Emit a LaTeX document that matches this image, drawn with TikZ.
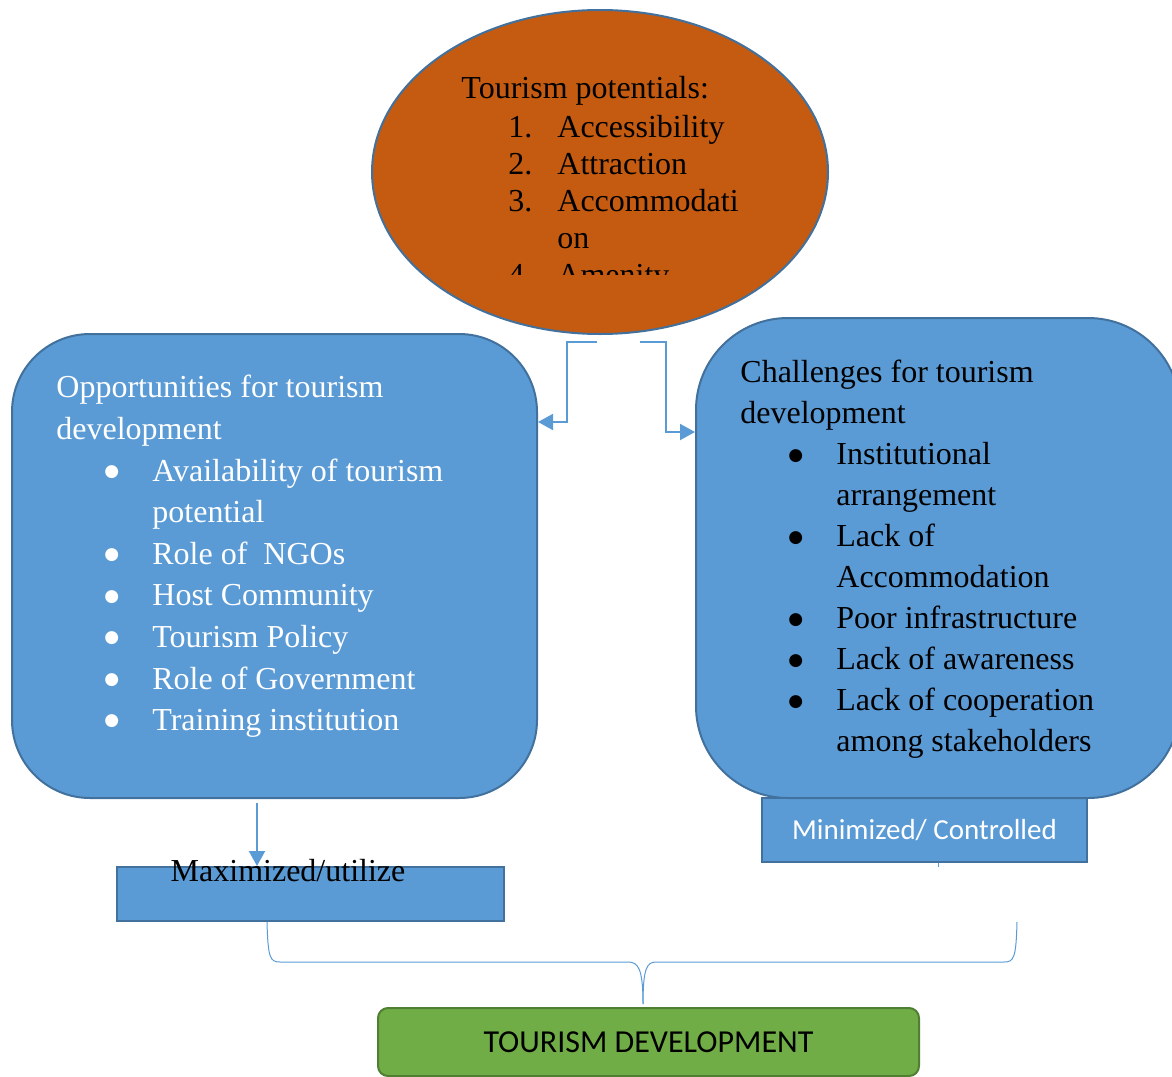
\documentclass[tikz,border=0pt]{standalone}
\usepackage{fontspec}
\setmainfont{Liberation Serif}
\setsansfont{Carlito}
\newfontfamily\dotfont{DejaVu Sans}
\usetikzlibrary{shapes,arrows,arrows.meta}
\definecolor{potorange}{HTML}{C55A11}
\definecolor{boxblue}{HTML}{5B9BD5}
\definecolor{edgeblue}{HTML}{41719C}
\definecolor{devgreen}{HTML}{70AD47}
\definecolor{edgegreen}{HTML}{507E32}
\newcommand{\bigdot}{\raisebox{2.4pt}{\dotfont\fontsize{8.5}{9}\selectfont ●}}
\newcommand{\bitem}[1]{\hspace*{24pt}\makebox[24pt][l]{\bigdot}#1}
\newcommand{\bcont}[1]{\hspace*{48pt}#1}
\newcommand{\nitem}[2]{\hspace*{23.5pt}\makebox[24.5pt][l]{#1}#2}

\begin{document}
\begin{tikzpicture}[x=0.5pt,y=-0.5pt,
    potential_ellipse/.style ={ellipse, draw=edgeblue, line width=1pt, fill=potorange,
      minimum width=228pt, minimum height=162pt, inner sep=0pt},
    block_round/.style ={rectangle, rounded corners=#1, draw=edgeblue, line width=1pt,
      fill=boxblue, inner sep=0pt},
    block_plain/.style ={rectangle, draw=edgeblue, line width=1pt, fill=boxblue,
      inner sep=0pt},
    block_result/.style ={rectangle, rounded corners=5pt, draw=edgegreen, line width=1pt,
      fill=devgreen, inner sep=0pt, font=\sffamily\fontsize{16}{19}\selectfont},
    box_text/.style ={anchor=north west, align=left, inner sep=0pt,
      font=\fontsize{16}{#1}\selectfont},
    line/.style ={draw=boxblue, line width=1pt, -{Triangle[length=7.5pt,width=8pt]}},
    brace_line/.style ={draw=boxblue, line width=0.5pt}]
    \useasboundingbox (0,0) rectangle (1172,1076);
    \clip (0,0) rectangle (1172,1076);
    % tourism potentials - top
    \node[potential_ellipse] (potentials) at (600,172) {};
    \begin{scope}
      \clip (372,0) rectangle (828,274);
      \node[anchor=north west, align=left, inner sep=0pt,
        font=\fontsize{16}{18.5}\selectfont] (potentials_list) at (461,76)
        {Tourism potentials:\\[1pt]
         \nitem{1.}{Accessibility}\\
         \nitem{2.}{Attraction}\\
         \nitem{3.}{Accommodati}\\
         \bcont{on}\\
         \nitem{4.}{Amenity}};
    \end{scope}
    % opportunities / challenges - row 2
    \node[block_round=39pt, minimum width=262.5pt, minimum height=232pt] (opportunities) at (274.5,566) {};
    \node[box_text=20.8pt, text=white] (opportunities_text) at (56,375)
      {Opportunities for tourism\\
       development\\
       \bitem{Availability of tourism}\\
       \bcont{potential}\\
       \bitem{Role of \ NGOs}\\
       \bitem{Host Community}\\
       \bitem{Tourism Policy}\\
       \bitem{Role of Government}\\
       \bitem{Training institution}};
    \node[block_plain, minimum width=162.5pt, minimum height=32pt, text=white,
      font=\sffamily\fontsize{14.5}{17}\selectfont] (minimized) at (924.5,830) {Minimized/ Controlled};
    \node[block_round=46pt, minimum width=242pt, minimum height=240pt] (challenges) at (938,558) {};
    \node[box_text=20.5pt, text=black] (challenges_text) at (740,360)
      {Challenges for tourism\\
       development\\
       \bitem{Institutional}\\
       \bcont{arrangement}\\
       \bitem{Lack of}\\
       \bcont{Accommodation}\\
       \bitem{Poor infrastructure}\\
       \bitem{Lack of awareness}\\
       \bitem{Lack of cooperation}\\
       \bcont{among stakeholders}};
    % maximized - row 3
    \node[block_plain, minimum width=193.5pt, minimum height=27pt] (maximized) at (310.5,894) {};
    \node[inner sep=0pt, font=\fontsize{16}{19}\selectfont] (maximized_text) at (288,871) {Maximized/utilize};
    % result - row 4
    \node[block_result, minimum width=270.5pt, minimum height=34pt] (development) at (648.5,1042) {TOURISM DEVELOPMENT};
    % connectors
    \coordinate (pot_left) at (597,342);
    \coordinate (pot_right) at (640,342);
    \coordinate (opp_out) at (257,803);
    \path[line] (pot_left) -- (567,342) |- (opportunities.east |- 0,422);
    \path[line] (pot_right) -- (666,342) |- (challenges.west |- 0,432);
    \path[line] (opp_out) -- (opp_out |- maximized.north);
    \path[brace_line] (minimized.south -| 938,0) -- ++(0,4);
    % brace into the result
    \coordinate (max_foot) at (267,922);
    \coordinate (min_foot) at (1017,922);
    \coordinate (brace_tip) at (643,1004);
    \path[brace_line] (max_foot) .. controls (268,958) and (270,962) .. (280,962) -- (628,962)
      .. controls (638,962) and (643,968) .. (brace_tip);
    \path[brace_line] (min_foot) .. controls (1016,958) and (1014,962) .. (1004,962) -- (656,962)
      .. controls (647,962) and (643,968) .. (brace_tip);
\end{tikzpicture}
\end{document}
